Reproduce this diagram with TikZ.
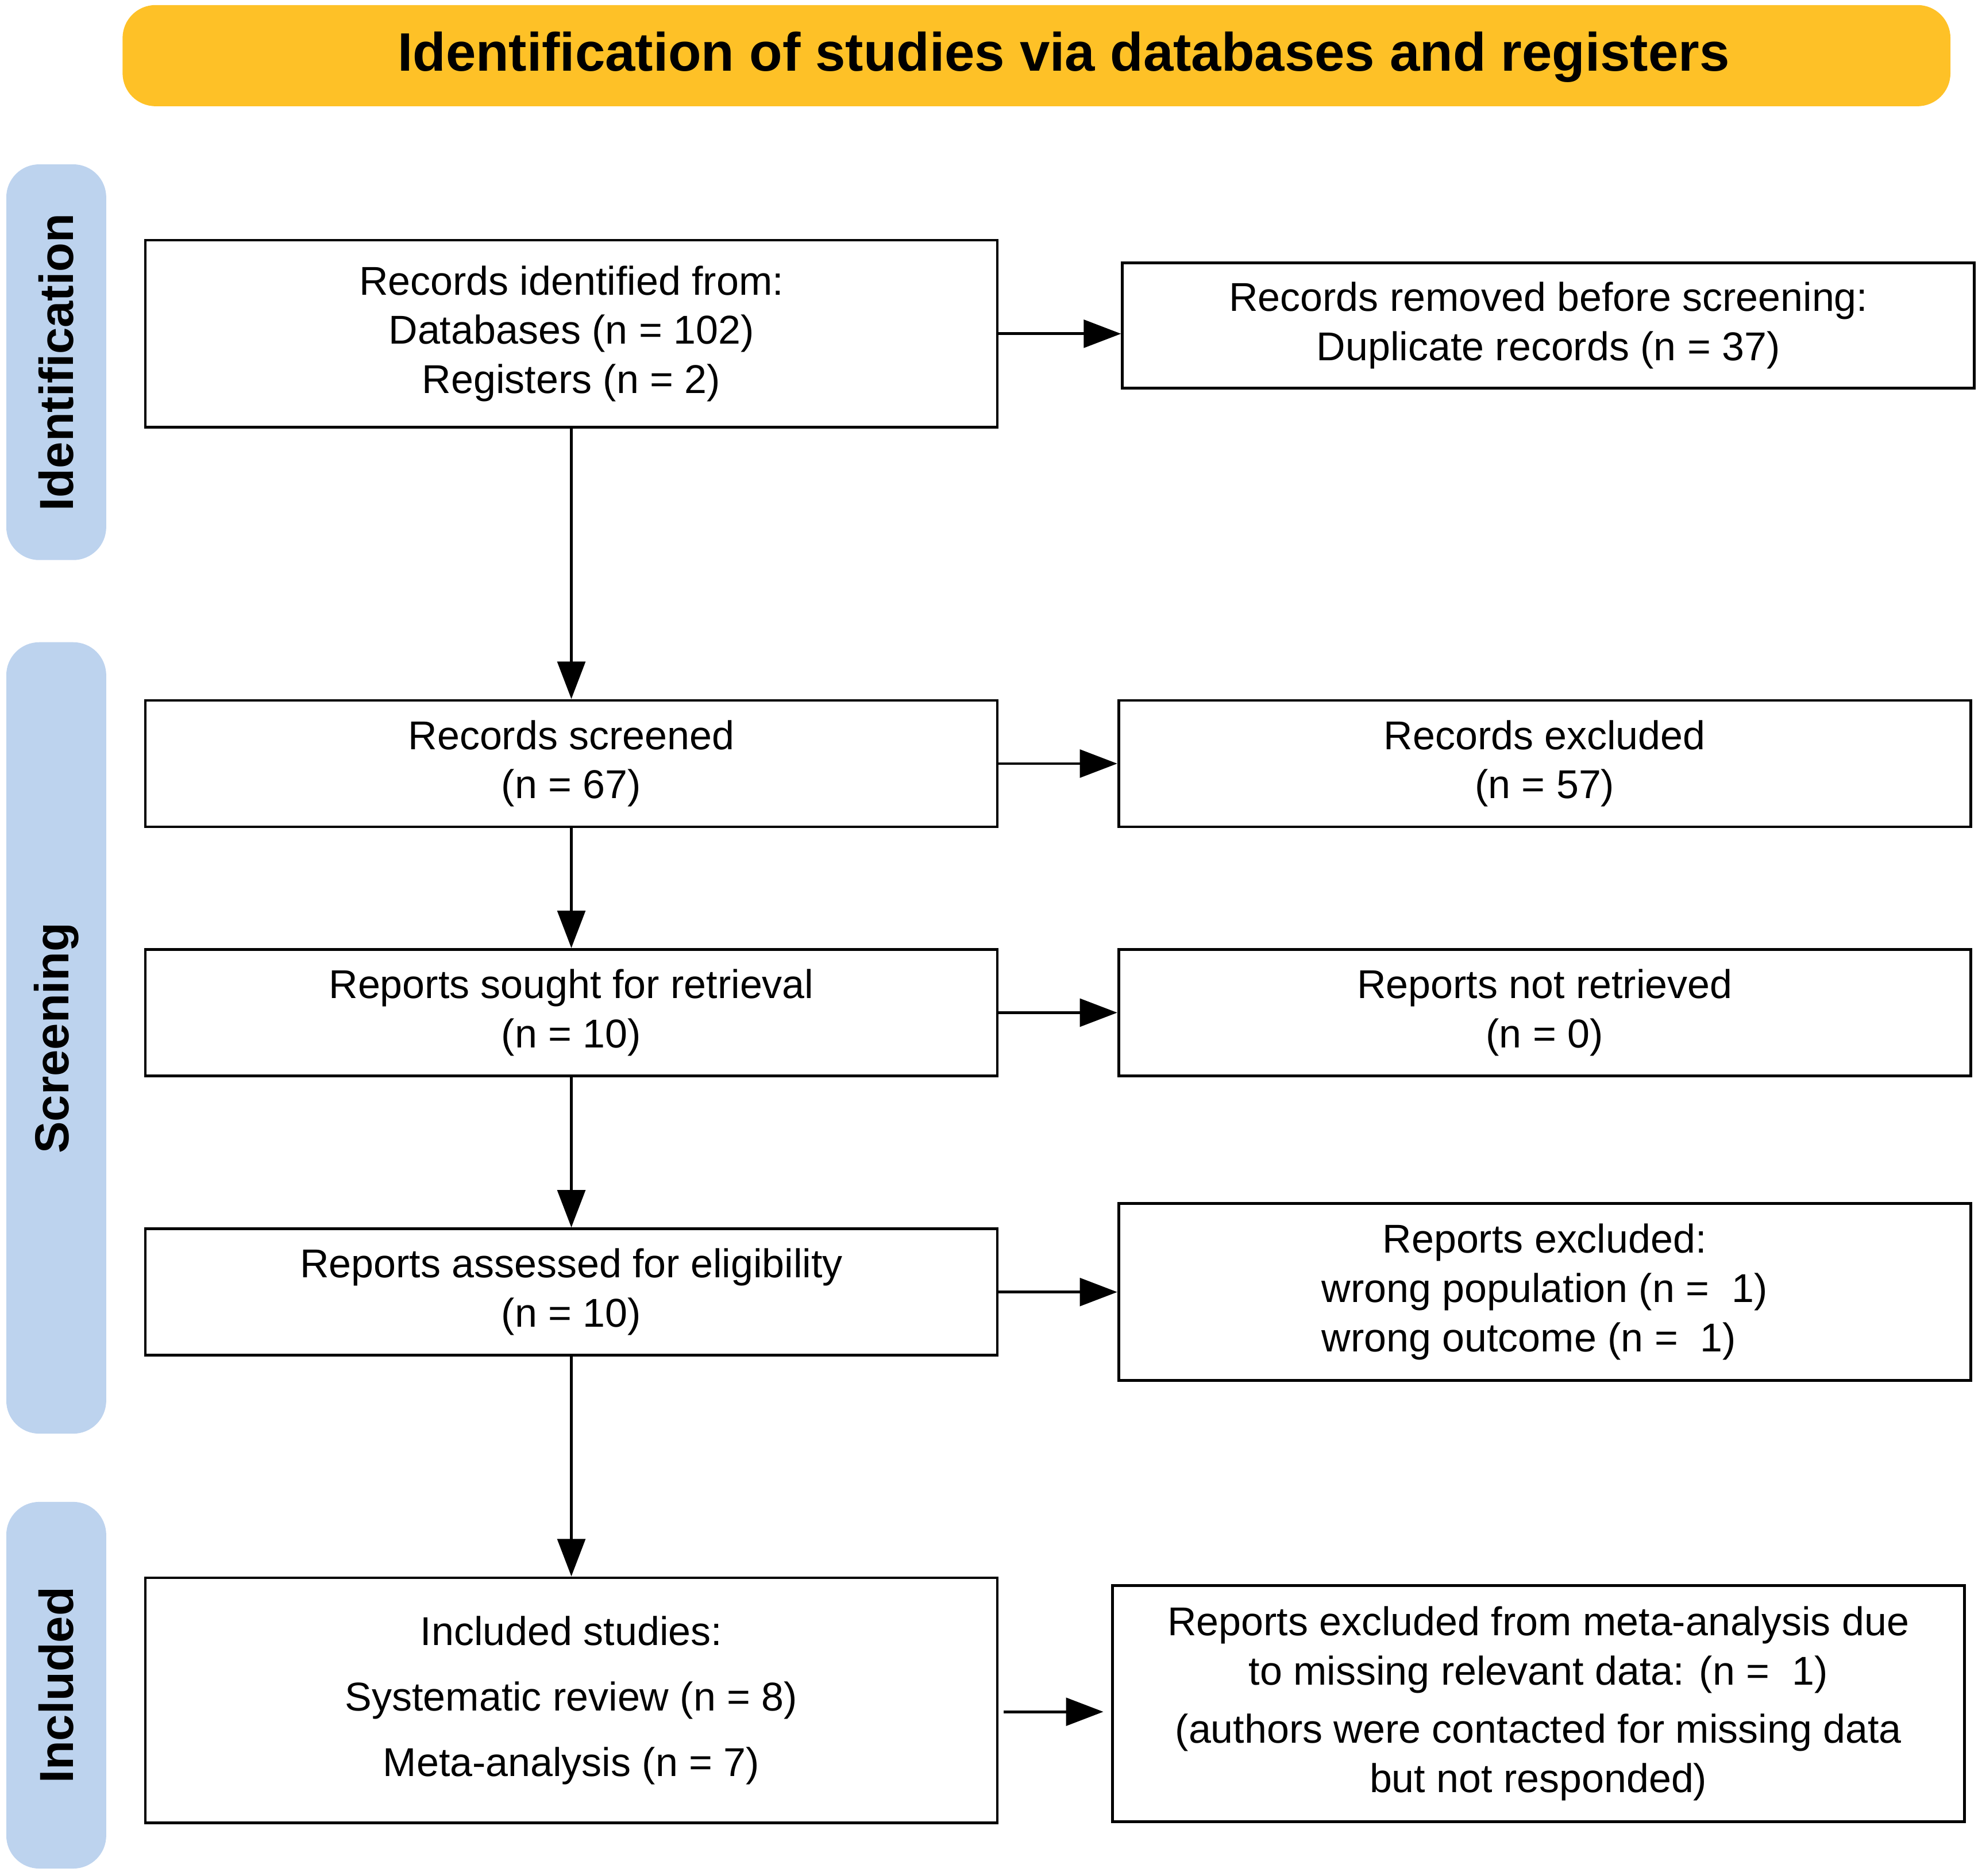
\documentclass[tikz,border=0pt]{standalone}
\usepackage{fontspec}
\setmainfont{Liberation Sans}
\usetikzlibrary{arrows.meta,calc}
\definecolor{bannerY}{RGB}{254,193,39}
\definecolor{sideB}{RGB}{189,211,238}
\begin{document}
\begin{tikzpicture}[x=0.5pt,y=-0.5pt,
  box/.style={draw=black, line width=1.1pt, align=center, inner sep=0pt, minimum width=337pt, font=\fontsize{15.9}{19.5}\selectfont},
  arr/.style={line width=1.1pt, -{Triangle[length=14.8pt,width=11pt]}},
  side/.style={fill=sideB, rounded corners=13pt, minimum width=39.5pt, inner sep=0pt},
  sidetext/.style={rotate=90, inner sep=0pt, font=\fontsize{18.9}{22}\selectfont\bfseries},
  banner/.style={fill=bannerY, rounded corners=13pt, minimum width=723pt, minimum height=40pt, inner sep=0pt}
]
\useasboundingbox (0,0) rectangle (1568,1483.5);

% banner
\node[banner] (ban) at (820,44) {};
\node[inner sep=0pt, font=\fontsize{21.4}{25}\selectfont\bfseries] (title) at (841.5,45) {Identification of studies via databases and registers};

% side labels
\node[side, minimum height=156.5pt] (sid) at (44.5,286.5) {};
\node[sidetext] (sidt) at (sid) {Identification};
\node[side, minimum height=313pt] (scr) at (44.5,821) {};
\node[sidetext] (scrt) at (scr) {Screening};
\node[side, minimum height=145pt] (inc) at (44.5,1333) {};
\node[sidetext] (inct) at (inc) {Included};

% left column
\node[box, minimum height=74pt] (b1) at (452,264) {Records identified from:\\Databases (n = 102)\\Registers (n = 2)};
\node[box, minimum height=50pt] (b2) at (452,604) {Records screened\\(n = 67)};
\node[box, minimum height=50pt] (b3) at (452,801) {Reports sought for retrieval\\(n = 10)};
\node[box, minimum height=50pt] (b4) at (452,1022) {Reports assessed for eligibility\\(n = 10)};
\node[box, minimum height=97pt] (b5) at (452,1345) {Included studies:\\[6.5pt]Systematic review (n = 8)\\[6.5pt]Meta-analysis (n = 7)};

% right column
\node[box, minimum height=49.5pt] (r1) at (1225,257.5) {Records removed before screening:\\Duplicate records (n = 37)};
\node[box, minimum height=50pt] (r2) at (1222,604) {Records excluded\\(n = 57)};
\node[box, minimum height=50pt] (r3) at (1222,801) {Reports not retrieved\\(n = 0)};
\node[box, minimum height=70pt] (r4) at (1222,1022) {Reports excluded:\\wrong population (n =\ \ 1)\\\makebox[0pt][l]{wrong outcome (n =\ \ 1)}\phantom{wrong population (n =\ \ 1)}};
\node[box, minimum height=93.5pt] (r5) at (1217,1347.5) {Reports excluded from meta-analysis due\\to missing relevant data: (n =\ \ 1)\\[3.5pt](authors were contacted for missing data\\but not responded)};

% vertical arrows
\draw[arr] (b1.south) -- (b2.north);
\draw[arr] (b2.south) -- (b3.north);
\draw[arr] (b3.south) -- (b4.north);
\draw[arr] (b4.south) -- (b5.north);

% horizontal arrows
\draw[arr] (b1.east) -- (b1.east -| r1.west);
\draw[arr] (b2.east) -- (r2.west);
\draw[arr] (b3.east) -- (r3.west);
\draw[arr] (b4.east) -- (r4.west);
\draw[arr] ([xshift=2pt,yshift=-4.5pt]b5.east) -- ([xshift=-3pt,yshift=-4.5pt]b5.east -| r5.west);
\end{tikzpicture}
\end{document}
